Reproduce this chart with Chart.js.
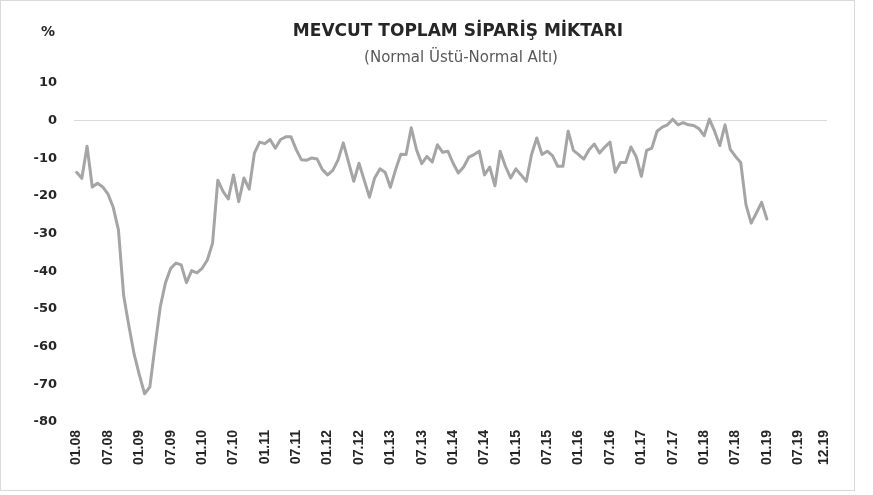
<!DOCTYPE html>
<html>
<head>
<meta charset="utf-8">
<script src="https://cdn.jsdelivr.net/npm/chart.js@4.4.1/dist/chart.umd.min.js"></script>
<style>
  html, body { margin: 0; padding: 0; background: #fff; }
  #wrap { position: relative; width: 873px; height: 495px; }
  #frame { position: absolute; left: 0; top: 0; width: 855px; height: 491px; box-sizing: border-box; border: 1px solid #d9d9d9; pointer-events: none; }
</style>
</head>
<body>
<div id="wrap">
  <canvas id="orders" width="873" height="495"></canvas>
  <div id="frame"></div>
</div>
<script>
// monthly categories 01.08 .. 12.19
const firstYear = 2008;
const lastYear = 2019;
const months = [];
for (let y = firstYear; y <= lastYear; y++) {
    for (let m = 1; m <= 12; m++) {
        months.push(String(m).padStart(2, "0") + "." + String(y % 100).padStart(2, "0"));
    }
}

const tickLabels = ["01.08", "07.08", "01.09", "07.09", "01.10", "07.10", "01.11", "07.11",
    "01.12", "07.12", "01.13", "07.13", "01.14", "07.14", "01.15", "07.15", "01.16", "07.16",
    "01.17", "07.17", "01.18", "07.18", "01.19", "07.19", "12.19"];

// Normal Üstü - Normal Altı, % (01.08 .. 01.19)
const orderBalance = [
    -13.7, -15.3, -6.8, -17.6, -16.6, -17.6, -19.5, -23, -29, -46.5, -54.5, -62,
    -67.5, -72.5, -70.7, -59.8, -49.4, -43, -39.2, -37.8, -38.3, -43, -39.8, -40.4,
    -39.2, -37, -32.5, -15.8, -18.8, -20.8, -14.4, -21.5, -15.2, -18.2, -8.6, -5.7,
    -6.1, -5, -7.3, -5, -4.3, -4.3, -7.7, -10.4, -10.5, -9.9, -10.2, -13,
    -14.4, -13.2, -10.4, -5.9, -11, -16.1, -11.3, -15.8, -20.3, -15.2, -12.8, -13.7,
    -17.7, -13, -8.9, -9, -1.9, -7.7, -11.4, -9.5, -11, -6.4, -8.4, -8.1,
    -11.3, -13.9, -12.3, -9.7, -9, -8.1, -14.4, -12.3, -17.3, -8.1, -12.1, -15.2,
    -12.8, -14.4, -16.1, -9, -4.6, -9, -8.1, -9.3, -12.1, -12.1, -2.8, -7.9,
    -9, -10.2, -7.7, -6.2, -8.6, -7, -5.7, -13.7, -11.1, -11.1, -7, -9.5,
    -14.8, -7.9, -7.3, -2.8, -1.7, -1.1, 0.4, -1.1, -0.5, -1.1, -1.3, -2.1,
    -4, 0.4, -2.8, -6.6, -1.1, -7.6, -9.5, -11.1, -22.3, -27.2, -24.5, -21.7,
    -26.1
];

const titleText = "MEVCUT TOPLAM SİPARİŞ MİKTARI";
const subtitleText = "(Normal Üstü-Normal Altı)";
const unitText = "%";

// title, subtitle and unit label drawn at fixed spots like the excel original
const headerPlugin = {
    id: "header",
    afterDraw(chart) {
        const c = chart.ctx;
        c.save();
        c.textBaseline = "middle";
        c.textAlign = "center";
        c.fillStyle = "#262626";
        c.font = "bold 17px 'DejaVu Sans'";
        c.fillText(titleText, 458, 32);
        c.fillStyle = "#595959";
        c.font = "15px 'DejaVu Sans'";
        c.fillText(subtitleText, 461, 58);
        c.fillStyle = "#262626";
        c.font = "bold 14px 'DejaVu Sans'";
        c.fillText(unitText, 48, 32);
        c.restore();
    }
};

const ctx = document.getElementById("orders").getContext("2d");

new Chart(ctx, {
    type: "line",
    data: {
        labels: months,
        datasets: [{
            data: orderBalance,
            borderColor: "#a5a5a5",
            borderWidth: 3,
            pointRadius: 0,
            tension: 0,
            borderJoinStyle: "round",
            borderCapStyle: "round"
        }]
    },
    options: {
        responsive: false,
        animation: false,
        layout: {
            padding: { top: 83, right: 46, bottom: 0, left: 0 }
        },
        plugins: {
            legend: { display: false },
            tooltip: { enabled: false }
        },
        scales: {
            x: {
                offset: true,
                grid: { display: false, drawTicks: false },
                border: { display: false },
                afterFit: (scale) => { scale.height = 73; },
                ticks: {
                    autoSkip: false,
                    minRotation: 90,
                    maxRotation: 90,
                    padding: 8,
                    color: "#262626",
                    font: { family: "'Liberation Sans'", size: 14, weight: "bold" },
                    callback: function (value) {
                        const lab = this.getLabelForValue(value);
                        return tickLabels.includes(lab) ? lab : "";
                    }
                }
            },
            y: {
                min: -80,
                max: 10,
                grid: {
                    drawTicks: false,
                    lineWidth: 1,
                    color: (c) => (c.tick && c.tick.value === 0 ? "#d9d9d9" : "rgba(0,0,0,0)")
                },
                border: { display: false },
                afterFit: (scale) => { scale.width = 74; },
                ticks: {
                    stepSize: 10,
                    padding: 17,
                    color: "#262626",
                    font: { family: "'DejaVu Sans'", size: 13, weight: "bold" }
                }
            }
        }
    },
    plugins: [headerPlugin]
});
</script>
</body>
</html>
